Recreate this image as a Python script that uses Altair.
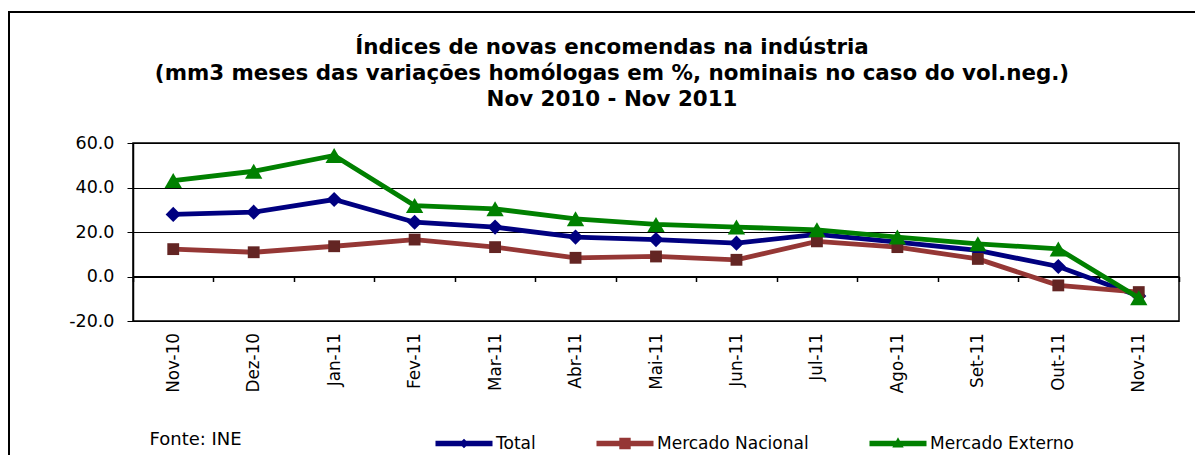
import altair as alt
import pandas as pd

categories = ["Nov-10", "Dez-10", "Jan-11", "Fev-11", "Mar-11", "Abr-11", "Mai-11",
              "Jun-11", "Jul-11", "Ago-11", "Set-11", "Out-11", "Nov-11"]
series_names = ["Total", "Mercado Nacional", "Mercado Externo"]
total = [27.9, 28.9, 34.6, 24.4, 22.2, 17.7, 16.6, 15.0, 18.9, 15.4, 11.7, 4.5, -8.8]
nacional = [12.3, 10.9, 13.6, 16.6, 13.2, 8.4, 9.0, 7.5, 15.8, 13.2, 7.9, -4.0, -7.0]
externo = [43.1, 47.3, 54.4, 31.9, 30.4, 25.9, 23.4, 22.2, 21.0, 17.7, 14.7, 12.4, -9.6]
y_ticks = [-20, 0, 20, 40, 60]
title_lines = [
    "Índices de novas encomendas na indústria",
    "(mm3 meses das variações homólogas em %, nominais no caso do vol.neg.)",
    "Nov 2010 - Nov 2011",
]
source_text = "Fonte: INE"

line_colors = ["#000080", "#953735", "#008000"]
marker_colors = ["#000080", "#632523", "#008000"]
marker_shapes = ["diamond", "square", "triangle-up"]
marker_sizes = [230, 140, 300]
legend_paths = [
    "M-1,-0.1H1V0.1H-1Z M0,-0.17L0.17,0L0,0.17L-0.17,0Z",
    "M-1,-0.1H1V0.1H-1Z M-0.2,-0.2H0.2V0.2H-0.2Z",
    "M-1,-0.1H1V0.1H-1Z M0,-0.22L0.2,0.14L-0.2,0.14Z",
]

rows = []
for name, vals in zip(series_names, [total, nacional, externo]):
    for c, v in zip(categories, vals):
        rows.append({"mes": c, "serie": name, "valor": v})
df = pd.DataFrame(rows)

FONT = "DejaVu Sans"
W, H = 1046, 178
ymin, ymax = -20, 60
zero_offset = -H * (0 - ymin) / (ymax - ymin)

x_enc = alt.X(
    "mes:N", sort=categories,
    scale=alt.Scale(type="band", paddingInner=0, paddingOuter=0),
    axis=alt.Axis(
        title=None, orient="bottom", offset=zero_offset,
        domain=True, domainColor="black", domainWidth=2,
        ticks=True, tickBand="extent", tickSize=5, tickWidth=1.5, tickColor="black",
        labelAngle=-90, labelPadding=51, labelFontSize=16.8, labelColor="black",
        labelFont=FONT, grid=False,
    ),
)
y_enc = alt.Y(
    "valor:Q",
    scale=alt.Scale(domain=[ymin, ymax], nice=False, zero=False),
    axis=alt.Axis(
        values=y_ticks,
        labelExpr="(datum.value < 0 ? '-' : '') + format(abs(datum.value), '.1f')",
        domain=True, domainColor="black", domainWidth=1.5,
        ticks=True, tickSize=6, tickColor="black", tickWidth=1,
        labelFontSize=17.5, labelPadding=13, labelColor="black", labelFont=FONT,
        grid=True, gridColor="black", gridWidth=1,
        title=source_text, titleAngle=0, titleX=16, titleY=301,
        titleAlign="left", titleBaseline="alphabetic", titleFontSize=18,
        titleFontWeight="normal", titleColor="black", titleFont=FONT,
    ),
)

border = alt.Chart(pd.DataFrame({"k": [0]})).mark_rect(
    fillOpacity=0, stroke="black", strokeWidth=2
).encode(
    x=alt.value(-124), x2=alt.value(W + 60),
    y=alt.value(-131), y2=alt.value(H + 200),
)

series_layers = []
for name, lcol, mcol, shp, sz in zip(series_names, line_colors, marker_colors,
                                     marker_shapes, marker_sizes):
    base = alt.Chart(df).transform_filter(alt.datum.serie == name)
    series_layers.append(
        base.mark_line(strokeWidth=4.8, color=lcol).encode(x=x_enc, y=y_enc)
    )
    series_layers.append(
        base.mark_point(filled=True, shape=shp, size=sz, color=mcol, opacity=1)
        .encode(x=x_enc, y=y_enc)
    )

legend_layer = alt.Chart(df).mark_point(filled=True, opacity=0).encode(
    x=x_enc, y=y_enc,
    color=alt.Color("serie:N", scale=alt.Scale(domain=series_names, range=line_colors),
                    legend=alt.Legend(title=None, symbolOpacity=1)),
    shape=alt.Shape("serie:N", scale=alt.Scale(domain=series_names, range=legend_paths),
                    legend=alt.Legend(title=None, symbolOpacity=1)),
)

chart = alt.layer(border, *series_layers, legend_layer).properties(
    width=W, height=H,
    title=alt.Title(
        text=title_lines, font=FONT, fontSize=21.4, fontWeight="bold", color="black",
        lineHeight=26, anchor="middle", frame="group", dx=-44, offset=0, dy=99,
    ),
    autosize=alt.AutoSizeParams(type="none"),
    padding={"left": 125, "top": 135, "right": 16, "bottom": 134},
).configure(
    font=FONT, background="white",
).configure_view(
    stroke="black", strokeWidth=1.5,
).configure_legend(
    orient="none", legendX=302, legendY=300 - 28.5, direction="horizontal",
    columns=3, symbolSize=3250, symbolStrokeWidth=0, symbolOpacity=1,
    labelFontSize=17, labelOffset=3, columnPadding=60, labelColor="black",
    labelFont=FONT, padding=0,
)

chart.save("out.html", embed_options={"renderer": "svg", "actions": False})
